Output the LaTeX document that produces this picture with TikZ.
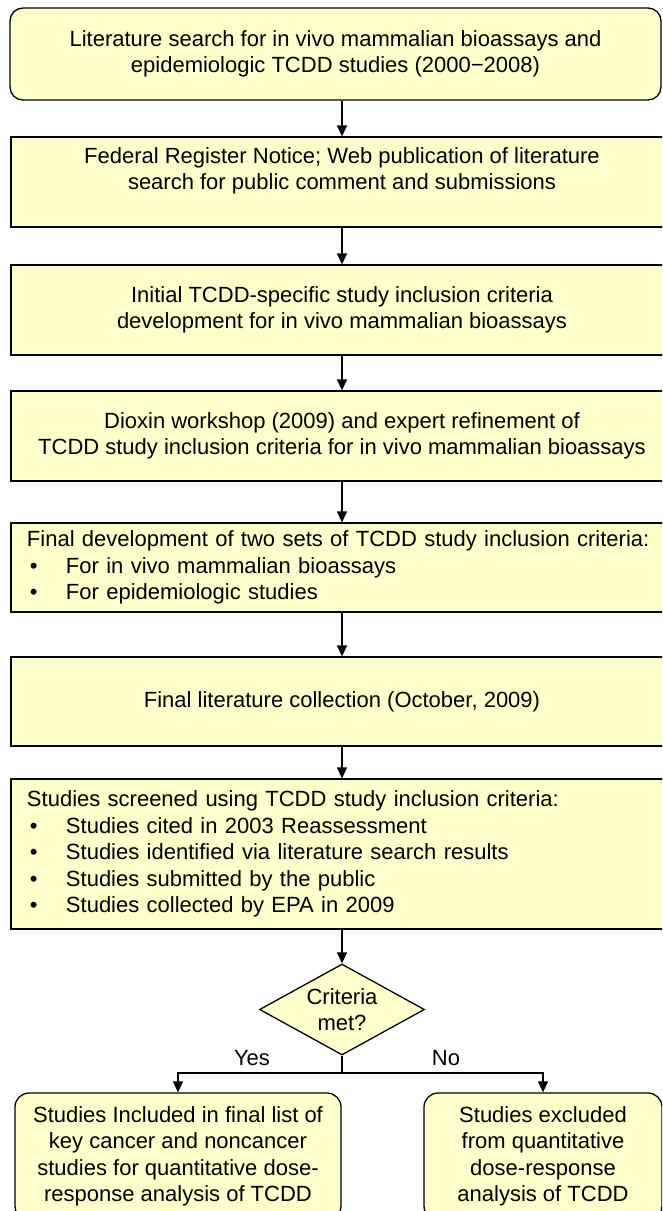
\documentclass[tikz,border=0pt]{standalone}
\usepackage{fontspec}
\setmainfont{Liberation Sans}
\usetikzlibrary{shapes.geometric,arrows.meta}

\definecolor{boxfill}{HTML}{FFFFCC}
\newcommand{\bul}[1]{\makebox[39pt][l]{\hspace{3pt}•}#1}

\tikzset{
  every node/.style={font=\fontsize{22pt}{26.5pt}\selectfont},
  stage/.style={rectangle, draw=black, fill=boxfill, line width=1.3pt,
    inner xsep=8pt, minimum width=662pt, minimum height=90pt, align=center},
  listbox/.style={stage, inner xsep=16pt, text width=630pt, align=left},
  endbox/.style={stage, rounded corners=14pt, minimum height=127pt},
  query/.style={diamond, draw=black, fill=boxfill, line width=1.3pt,
    aspect=1.8, inner sep=0pt, minimum width=165pt, minimum height=91pt, align=center},
  flow/.style={line width=1.3pt, -{Triangle[length=11pt,width=10pt]}}
}

\begin{document}
\begin{tikzpicture}[x=1pt,y=-1pt]
  \useasboundingbox (0,0) rectangle (662,1211);
  \clip (0,0) rectangle (662,1211);

  \node[stage, rounded corners=13pt, minimum width=651pt, minimum height=92pt]
    (lit) at (335.5,54) {Literature search for in vivo mammalian bioassays and\\
      epidemiologic TCDD studies (2000−2008)};
  \node[stage] (fed) at (342,182) {Federal Register Notice; Web publication of literature\\
      search for public comment and submissions\\ \mbox{}};
  \node[stage] (crit) at (342,310) {Initial TCDD-specific study inclusion criteria\\
      development for in vivo mammalian bioassays};
  \node[stage] (wshop) at (342,436) {Dioxin workshop (2009) and expert refinement of\\
      TCDD study inclusion criteria for in vivo mammalian bioassays};
  \node[listbox, minimum height=89pt] (sets) at (342,567.5)
    {\mbox{Final development of two sets of TCDD study inclusion criteria:}\\
      \bul{For in vivo mammalian bioassays}\\
      \bul{For epidemiologic studies}};
  \node[stage, minimum height=89pt] (coll) at (342,701.5) {Final literature collection (October, 2009)};
  \node[listbox, minimum height=150pt] (screen) at (342,854)
    {\mbox{Studies screened using TCDD study inclusion criteria:}\\
      \bul{Studies cited in 2003 Reassessment}\\
      \bul{Studies identified via literature search results}\\
      \bul{Studies submitted by the public}\\
      \bul{Studies collected by EPA in 2009}};
  \node[query] (met) at (342,1009.5) {Criteria\\met?};
  \coordinate (split) at (342,1073);
  \node[endbox, minimum width=326pt] (incl) at (178,1156.5)
    {Studies Included in final list of\\key cancer and noncancer\\
      studies for quantitative dose-\\response analysis of TCDD};
  \node[endbox, minimum width=238pt] (excl) at (543,1156.5)
    {Studies excluded\\from quantitative\\dose-response\\analysis of TCDD};
  \node[anchor=base] (yes) at (252,1065) {Yes};
  \node[anchor=base] (no) at (446,1065) {No};

  \begin{scope}[flow]
    \draw (lit.south -| fed) to (fed);
    \draw (fed) to (crit);
    \draw (crit) to (wshop);
    \draw (wshop) to (sets);
    \draw (sets) to (coll);
    \draw (coll) to (screen);
    \draw (screen) to (met);
    \draw (split) -| (incl.north);
    \draw (split) -| (excl.north);
  \end{scope}
  \draw[line width=1.3pt] (met.south) -- (split);
\end{tikzpicture}
\end{document}
